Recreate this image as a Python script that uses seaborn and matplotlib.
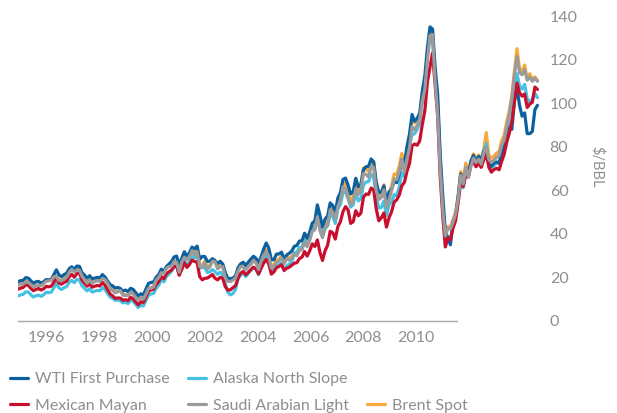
import numpy as np
import pandas as pd
import matplotlib

matplotlib.use("Agg")
import matplotlib.pyplot as plt
from matplotlib.lines import Line2D
import seaborn as sns

# monthly prices, $/bbl, Jan 1995 - Dec 2011 (one row per year)
wti = [
    18.0, 18.5, 18.6, 19.9, 19.7, 18.5, 17.3, 18.0, 18.2, 17.4, 18.0, 19.0,
    18.9, 19.1, 21.3, 23.5, 21.2, 20.4, 21.3, 21.9, 24.0, 24.9, 23.7, 25.2,
    25.1, 22.2, 21.0, 19.7, 20.8, 19.3, 19.7, 20.0, 19.8, 21.3, 20.2, 18.3,
    16.7, 16.1, 15.1, 15.4, 14.9, 13.7, 14.2, 13.5, 15.0, 14.5, 13.0, 11.4,
    12.5, 12.0, 14.7, 17.3, 17.7, 17.9, 20.1, 21.3, 23.8, 22.7, 25.0, 26.1,
    27.3, 29.4, 29.8, 25.7, 28.8, 31.8, 29.7, 31.3, 33.9, 33.1, 34.4, 28.4,
    29.6, 29.6, 27.3, 27.5, 28.6, 27.6, 26.4, 27.4, 26.2, 22.2, 19.6, 19.4,
    19.7, 20.7, 24.5, 26.2, 27.0, 25.5, 27.0, 28.4, 29.7, 28.8, 26.4, 29.5,
    33.0, 35.8, 33.5, 28.2, 28.1, 30.7, 30.8, 31.6, 28.3, 30.3, 31.1, 32.1,
    34.3, 34.7, 36.7, 36.8, 40.3, 38.0, 40.8, 44.9, 45.9, 53.3, 48.5, 43.2,
    46.8, 48.2, 54.2, 53.0, 49.8, 56.4, 59.0, 65.0, 65.6, 62.3, 58.3, 59.4,
    65.5, 61.6, 62.7, 69.4, 70.8, 71.0, 74.4, 73.0, 63.8, 58.9, 59.1, 62.0,
    54.5, 59.3, 60.4, 64.0, 63.5, 67.5, 74.1, 72.4, 79.9, 85.8, 94.8, 91.7,
    93.0, 95.4, 105.5, 112.6, 125.4, 135.0, 134.0, 116.7, 104.1, 76.6, 57.3, 41.1,
    38.0, 35.0, 45.5, 48.0, 57.0, 67.5, 62.5, 69.5, 67.5, 73.5, 76.0, 73.0,
    75.5, 74.0, 77.5, 79.5, 72.0, 71.0, 72.5, 73.0, 72.5, 76.5, 80.5, 88.0,
    88.5, 88.0, 101.0, 107.0, 99.0, 94.0, 95.5, 86.0, 86.0, 87.0, 97.0, 99.0,
]
alaska = [
    11.5, 12.0, 12.2, 13.4, 13.3, 12.1, 11.0, 11.6, 11.9, 11.3, 12.0, 13.2,
    13.0, 13.3, 15.2, 17.2, 15.2, 14.5, 15.3, 15.8, 17.8, 18.7, 17.6, 19.0,
    18.9, 16.2, 15.0, 13.8, 14.8, 13.3, 13.7, 14.0, 13.9, 15.3, 14.4, 12.6,
    11.0, 10.4, 9.5, 9.7, 9.3, 8.3, 8.6, 8.0, 9.4, 9.0, 7.6, 6.2,
    7.2, 6.9, 9.3, 11.9, 12.4, 12.7, 15.0, 16.4, 19.0, 18.0, 20.4, 21.6,
    22.9, 25.0, 25.5, 21.3, 24.6, 27.6, 25.5, 27.1, 29.8, 29.0, 30.3, 24.3,
    24.5, 24.6, 22.3, 22.5, 23.6, 22.6, 21.4, 22.4, 21.2, 17.2, 13.2, 12.0,
    12.6, 14.5, 19.4, 21.1, 22.0, 20.4, 21.9, 23.3, 24.6, 23.8, 21.3, 24.4,
    28.0, 30.8, 28.5, 23.2, 23.1, 25.7, 25.8, 26.6, 23.3, 25.3, 26.1, 27.1,
    31.3, 31.7, 33.7, 33.8, 37.3, 35.0, 37.8, 41.9, 42.9, 49.3, 44.5, 39.2,
    42.3, 43.7, 49.2, 48.0, 44.8, 51.4, 53.5, 59.0, 59.1, 56.3, 52.3, 53.4,
    59.0, 55.1, 56.2, 62.4, 63.8, 64.0, 67.4, 66.0, 56.8, 51.9, 52.1, 55.0,
    48.5, 53.3, 54.4, 58.0, 57.5, 61.5, 68.1, 66.4, 73.9, 80.8, 85.5, 86.0,
    88.0, 91.0, 101.5, 108.6, 121.4, 129.9, 129.4, 112.7, 100.1, 72.6, 53.3, 37.1,
    38.7, 37.1, 44.9, 47.7, 56.0, 66.6, 61.2, 68.1, 66.4, 72.7, 75.0, 72.5,
    75.6, 73.4, 78.2, 81.3, 72.7, 70.3, 71.3, 72.6, 72.2, 77.9, 81.3, 87.2,
    90.2, 92.5, 104.7, 113.5, 107.9, 106.5, 108.6, 102.0, 100.5, 101.8, 104.5, 102.5,
]
mayan = [
    14.6, 15.1, 15.4, 16.6, 16.4, 15.0, 13.9, 14.5, 14.9, 14.2, 14.8, 15.9,
    15.7, 16.0, 17.8, 19.8, 17.4, 16.9, 17.7, 18.3, 20.3, 21.4, 20.1, 21.8,
    22.0, 18.8, 17.3, 16.0, 17.1, 15.5, 16.0, 16.3, 16.1, 17.7, 16.4, 14.4,
    12.4, 11.5, 10.4, 10.6, 10.5, 9.5, 9.8, 9.3, 10.9, 10.2, 8.7, 7.4,
    8.8, 8.5, 11.0, 13.7, 14.3, 14.6, 16.8, 18.1, 20.4, 19.4, 21.7, 22.6,
    23.4, 25.1, 25.0, 21.0, 23.6, 26.8, 24.6, 25.9, 28.0, 27.3, 27.0, 20.4,
    18.9, 19.6, 19.7, 20.5, 21.3, 19.6, 18.9, 20.0, 19.7, 15.8, 14.2, 14.3,
    15.3, 16.2, 19.7, 21.9, 22.8, 21.2, 22.3, 23.6, 24.7, 23.9, 21.6, 24.2,
    26.6, 28.3, 26.2, 21.5, 22.5, 24.5, 25.0, 25.9, 23.2, 24.2, 24.7, 25.6,
    26.5, 26.8, 28.7, 29.3, 31.9, 29.8, 32.2, 35.4, 34.2, 37.2, 31.5, 27.8,
    32.2, 34.8, 41.2, 40.5, 37.6, 43.3, 45.6, 50.2, 52.5, 51.0, 44.8, 45.6,
    50.6, 48.3, 49.5, 56.8, 58.3, 58.1, 61.0, 60.2, 51.5, 46.0, 47.4, 49.6,
    43.1, 47.4, 50.2, 54.6, 55.6, 57.8, 62.1, 63.6, 68.7, 72.4, 80.5, 81.2,
    80.7, 82.7, 90.2, 96.5, 109.7, 116.5, 123.0, 108.5, 94.1, 66.4, 48.1, 34.0,
    38.0, 37.4, 42.6, 46.0, 54.1, 63.6, 61.8, 67.2, 66.0, 71.6, 73.2, 70.8,
    72.5, 70.5, 73.8, 76.7, 70.6, 68.3, 69.5, 70.1, 69.4, 73.2, 76.5, 82.0,
    86.2, 91.3, 100.6, 109.2, 104.8, 103.2, 104.2, 98.0, 99.6, 100.4, 107.4, 106.3,
]
saudi = [
    16.5, 17.0, 16.9, 18.0, 17.8, 16.7, 15.8, 16.0, 16.4, 16.2, 17.1, 18.3,
    18.4, 18.8, 20.3, 20.4, 18.6, 18.5, 19.3, 20.1, 22.3, 23.8, 22.5, 23.4,
    23.3, 20.6, 18.9, 17.3, 18.8, 17.3, 18.2, 18.4, 18.2, 19.6, 19.0, 17.2,
    15.0, 14.0, 12.9, 13.4, 14.0, 11.8, 11.8, 11.7, 13.1, 12.4, 10.8, 9.6,
    10.9, 10.1, 12.3, 15.0, 15.0, 15.6, 18.8, 20.0, 22.2, 21.8, 24.2, 25.0,
    25.1, 27.3, 27.0, 22.4, 27.1, 29.2, 28.1, 29.6, 32.3, 30.3, 31.8, 25.0,
    24.8, 26.7, 23.8, 24.9, 27.5, 27.1, 23.9, 25.0, 24.9, 19.9, 18.2, 18.1,
    18.8, 19.7, 23.0, 25.0, 24.7, 23.4, 25.0, 26.0, 27.6, 26.8, 23.6, 27.5,
    30.3, 31.8, 29.7, 24.2, 25.1, 26.9, 27.6, 29.0, 26.3, 28.7, 27.9, 29.0,
    30.4, 30.0, 32.6, 32.6, 36.4, 34.1, 37.0, 41.3, 41.8, 47.8, 41.5, 38.2,
    43.0, 43.9, 51.1, 50.0, 47.0, 52.4, 55.5, 61.7, 60.6, 56.4, 53.3, 54.8,
    60.7, 58.1, 59.8, 67.7, 67.3, 66.1, 71.0, 70.6, 59.8, 55.8, 56.7, 60.2,
    51.9, 55.6, 59.9, 65.1, 64.9, 68.6, 74.2, 68.4, 74.5, 79.5, 89.2, 87.8,
    89.9, 92.6, 101.0, 106.4, 119.7, 131.0, 131.5, 110.4, 94.8, 69.8, 51.2, 39.0,
    42.4, 42.3, 45.4, 49.0, 55.9, 66.9, 62.9, 70.7, 66.0, 71.0, 74.8, 72.7,
    74.3, 72.0, 76.9, 80.0, 74.1, 72.9, 73.7, 75.1, 75.9, 80.6, 83.2, 89.2,
    95.0, 102.0, 113.0, 121.5, 114.0, 113.0, 115.5, 110.5, 112.0, 110.0, 111.5, 110.0,
]
brent = [
    16.6, 17.2, 17.0, 18.2, 18.0, 16.9, 16.0, 16.3, 16.6, 16.4, 17.3, 18.6,
    18.6, 19.0, 20.6, 20.7, 18.9, 18.8, 19.6, 20.4, 22.6, 24.1, 22.8, 23.7,
    23.5, 20.9, 19.1, 17.6, 19.0, 17.6, 18.5, 18.6, 18.5, 19.9, 19.2, 17.4,
    15.2, 14.3, 13.2, 13.7, 14.3, 12.1, 12.1, 11.9, 13.3, 12.7, 11.0, 9.8,
    11.1, 10.3, 12.5, 15.3, 15.2, 15.9, 19.1, 20.3, 22.5, 22.1, 24.6, 25.5,
    25.5, 27.8, 27.5, 22.8, 27.7, 29.8, 28.7, 30.2, 33.1, 31.0, 32.6, 25.7,
    25.6, 27.5, 24.5, 25.7, 28.3, 27.9, 24.6, 25.7, 25.6, 20.5, 18.8, 18.7,
    19.4, 20.3, 23.7, 25.7, 25.4, 24.1, 25.7, 26.7, 28.4, 27.5, 24.3, 28.3,
    31.2, 32.8, 30.6, 25.0, 25.9, 27.7, 28.4, 29.9, 27.1, 29.6, 28.8, 29.8,
    31.3, 30.9, 33.6, 33.6, 37.6, 35.2, 38.2, 42.7, 43.2, 49.8, 43.1, 39.6,
    44.5, 45.5, 53.1, 51.9, 48.7, 54.4, 57.5, 64.0, 62.9, 58.5, 55.2, 56.9,
    63.0, 60.2, 62.1, 70.3, 69.8, 68.6, 73.7, 73.2, 62.0, 57.8, 58.8, 62.5,
    53.7, 57.6, 62.1, 67.5, 67.2, 71.1, 76.9, 70.8, 77.2, 82.3, 92.4, 90.9,
    92.2, 95.0, 103.6, 109.1, 122.8, 132.3, 133.5, 113.2, 97.2, 71.6, 52.5, 41.0,
    43.4, 43.3, 46.5, 50.2, 57.3, 68.6, 64.4, 72.5, 67.7, 72.8, 76.7, 74.5,
    76.2, 73.8, 78.8, 86.5, 76.0, 74.8, 75.6, 77.0, 77.8, 82.7, 85.3, 91.5,
    96.5, 103.7, 114.6, 125.0, 116.0, 114.5, 117.5, 111.0, 113.5, 111.0, 112.0, 110.5,
]

year_labels = ["1996", "1998", "2000", "2002", "2004", "2006", "2008", "2010"]
y_ticks = [0, 20, 40, 60, 80, 100, 120, 140]

dates = pd.date_range("1995-01-01", periods=len(wti), freq="MS")
t = dates.year + (dates.month - 1) / 12.0

series = {
    "WTI First Purchase": (wti, "#0b609f"),
    "Alaska North Slope": (alaska, "#45c1e1"),
    "Mexican Mayan": (mayan, "#c8102e"),
    "Saudi Arabian Light": (saudi, "#9b9b9b"),
    "Brent Spot": (brent, "#f9a83a"),
}
draw_order = ["Brent Spot", "Alaska North Slope", "WTI First Purchase",
              "Mexican Mayan", "Saudi Arabian Light"]
# column-major legend; None leaves the top of the third column empty
legend_order = ["WTI First Purchase", "Mexican Mayan", "Alaska North Slope",
                "Saudi Arabian Light", None, "Brent Spot"]

sns.set_theme(style="white")
plt.rcParams["font.family"] = ["Lato", "DejaVu Sans"]
text_grey = "#8e8e8e"

fig = plt.figure(figsize=(6.17, 4.13), dpi=100)
ax = fig.add_axes([18 / 617, 92 / 413, 522 / 617, 305 / 413])

for name in draw_order:
    vals, col = series[name]
    df = pd.DataFrame({"t": t, "price": vals})
    sns.lineplot(data=df, x="t", y="price", color=col, lw=2.3, ax=ax,
                 label=name, legend=False)

ax.set_xlim(1995, 2012)
ax.set_ylim(0, 140)
ax.set_xlabel("")
ax.set_ylabel("")

for s in ["top", "left", "right"]:
    ax.spines[s].set_visible(False)
ax.spines["bottom"].set_color("#a8a8a8")
ax.spines["bottom"].set_linewidth(1.0)
ax.spines["bottom"].set_bounds(1995, 2009.3)

# year labels sit evenly under the axis line
tick_pos = 1995.91 + 1.723 * np.arange(len(year_labels))
ax.set_xticks(tick_pos)
ax.set_xticklabels(year_labels)
ax.yaxis.tick_right()
ax.set_yticks(y_ticks)
ax.tick_params(axis="x", length=0, pad=7, labelsize=11.5, labelcolor=text_grey)
ax.tick_params(axis="y", length=0, pad=7, labelsize=11.5, labelcolor=text_grey)
for lab in ax.get_yticklabels():
    lab.set_horizontalalignment("left")

fig.text(597 / 617, 1 - 167 / 413, r"\$/BBL", rotation=270, ha="center",
         va="center", fontsize=10.5, color=text_grey)

handles, labels = ax.get_legend_handles_labels()
lookup = dict(zip(labels, handles))
blank = Line2D([], [], color="none")
leg_handles = [lookup[k] if k else blank for k in legend_order]
leg_labels = [k if k else "" for k in legend_order]
fig.legend(leg_handles, leg_labels, ncol=3,
           loc="upper left", bbox_to_anchor=(10 / 617, 1 - 372 / 413),
           frameon=False, fontsize=11.5, labelcolor=text_grey,
           handlelength=1.15, handletextpad=0.4, columnspacing=1.15,
           labelspacing=0.78, borderaxespad=0, borderpad=0)

fig.savefig("out.png", dpi=100)
